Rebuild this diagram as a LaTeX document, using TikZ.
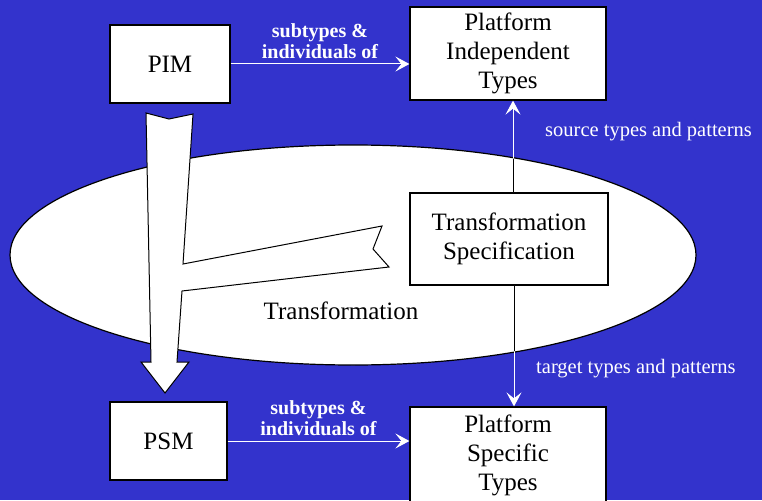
\documentclass[tikz,border=0pt]{standalone}
\usepackage{fontspec}
\setmainfont{Liberation Serif}
\usetikzlibrary{arrows.meta, positioning}

\definecolor{bgblue}{RGB}{51,51,204}
\tikzset{
  box/.style={draw=black, fill=white, line width=1.2pt, align=center, font=\fontsize{25}{29}\selectfont, inner sep=0pt},
  lbl/.style={text=white, font=\fontsize{20}{21}\selectfont\bfseries, align=center},
  note/.style={text=white, font=\fontsize{20.5}{22}\selectfont, anchor=west, inner sep=0pt},
  link/.style={white, line width=1pt, -{Stealth[length=14pt, width=15pt, inset=6pt]}}
}

\begin{document}
\begin{tikzpicture}[x=1pt, y=-1pt]
	\useasboundingbox (0,0) rectangle (762,500);
	\fill[bgblue] (0,0) rectangle (762,500);
	% the transformation ellipse
	\draw[fill=white, line width=1.2pt] (353,255) ellipse [x radius=343, y radius=110];
	% big arrow PIM -> PSM with the branch from the specification
	\draw[fill=white, line width=1pt, line join=miter] (146,113) -- (169,119) -- (193,114) -- (183,264) -- (382,226) -- (373,249) -- (389,267) -- (182,291) -- (177,362) -- (189,362) -- (165,393) -- (141,362) -- (151,362) -- cycle;
	\node[font=\fontsize{25}{29}\selectfont] (trans) at (341,311) {Transformation};

	\node[box, minimum width=120pt, minimum height=78pt] (pim) at (170,64) {PIM};
	\node[box, minimum width=196pt, minimum height=93pt] (pit) at (508,53.5) {Platform\\Independent\\Types};
	\node[box, minimum width=198pt, minimum height=92pt] (spec) at (509,239) {Transformation\\Specification};
	\node[box, minimum width=117pt, minimum height=78pt] (psm) at (168.5,441) {PSM};
	\node[box, minimum width=196pt, minimum height=96pt] (pst) at (508,455) {Platform\\Specific\\Types};

	\draw[link] (pim.east) -- (pit.west |- pim.east) node[lbl, midway, above=1pt] {subtypes \&\\individuals of};
	\draw[link] (psm.east) -- (pst.west |- psm.east) node[lbl, midway, above=1pt] {subtypes \&\\individuals of};

	\draw[link] (spec.north -| 513,0) -- (pit.south -| 513,0);
	\draw[link] (spec.south -| 514,0) -- (pst.north -| 514,0);
	\begin{scope}
		\clip (353,255) ellipse [x radius=342, y radius=109];
		\draw[black, line width=1pt] (spec.north -| 513,0) -- (pit.south -| 513,0);
		\draw[black, line width=1pt] (spec.south -| 514,0) -- (pst.north -| 514,0);
	\end{scope}
	\node[note] (src) at (545,132) {source types and patterns};
	\node[note] (tgt) at (536,369) {target types and patterns};
\end{tikzpicture}
\end{document}
